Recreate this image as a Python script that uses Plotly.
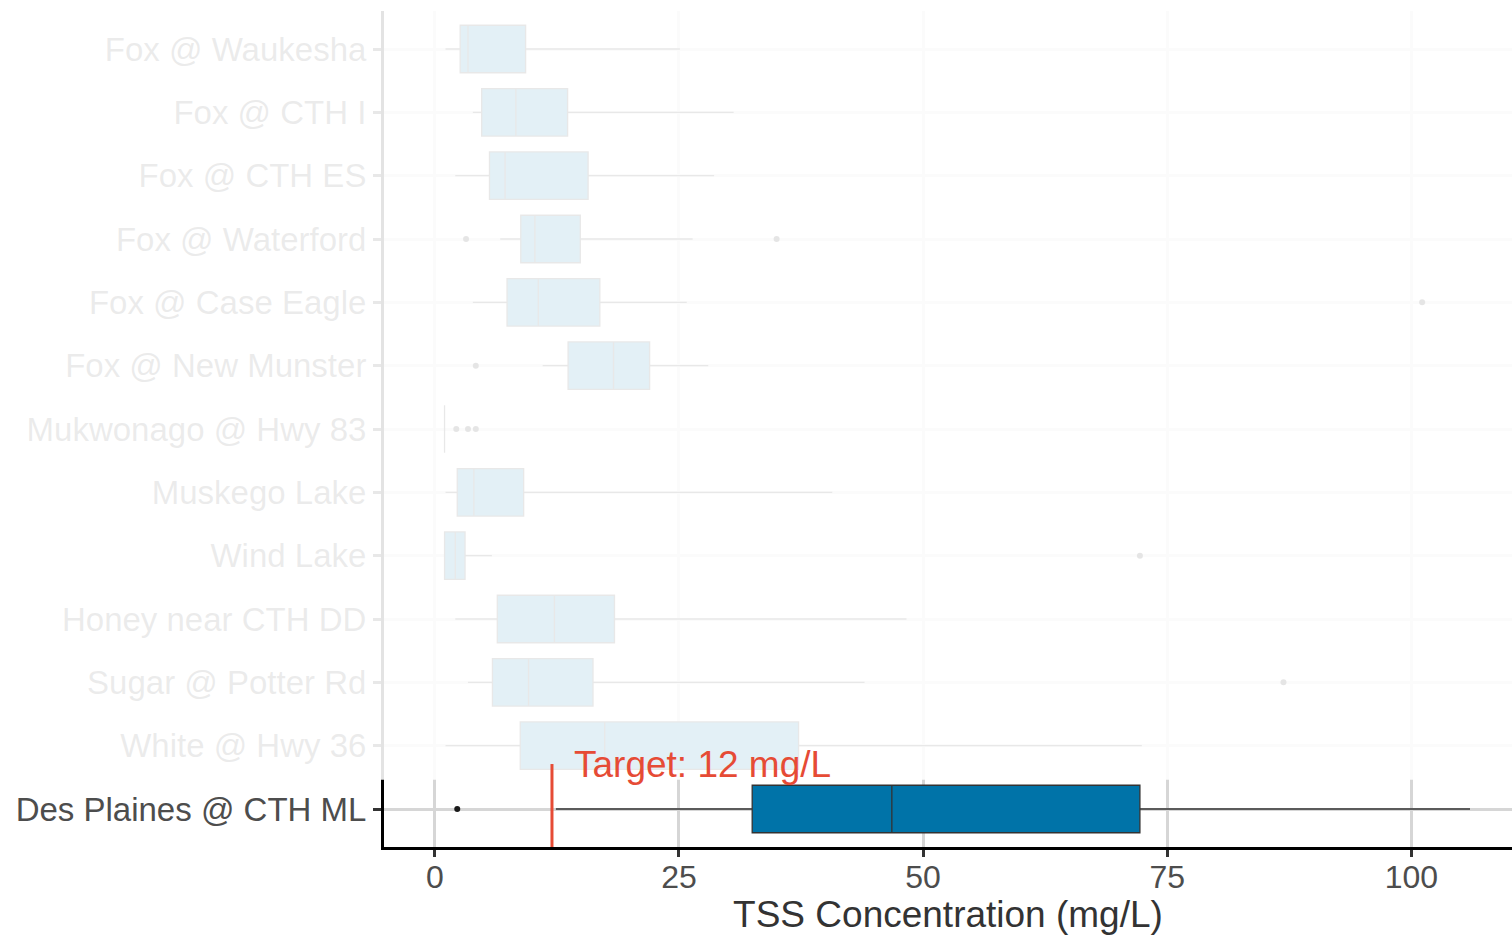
import plotly.graph_objects as go

# Monitoring sites, top to bottom
sites = [
    "Fox @ Waukesha", "Fox @ CTH I", "Fox @ CTH ES", "Fox @ Waterford",
    "Fox @ Case Eagle", "Fox @ New Munster", "Mukwonago @ Hwy 83",
    "Muskego Lake", "Wind Lake", "Honey near CTH DD", "Sugar @ Potter Rd",
    "White @ Hwy 36", "Des Plaines @ CTH ML",
]

# Box statistics of TSS (mg/L) per site
lower_whisker = [1.1, 3.9, 2.1, 6.7, 3.9, 11.05, 1.0, 1.1, 1.0, 2.1, 3.4, 1.1, 12.4]
q1 = [2.6, 4.8, 5.6, 8.8, 7.4, 13.65, 1.0, 2.3, 1.0, 6.4, 5.9, 8.75, 32.5]
median = [3.4, 8.3, 7.2, 10.25, 10.6, 18.3, 1.0, 4.0, 2.1, 12.25, 9.6, 17.4, 46.8]
q3 = [9.3, 13.6, 15.7, 14.9, 16.9, 22.0, 1.0, 9.1, 3.1, 18.4, 16.2, 37.25, 72.2]
upper_whisker = [25.1, 30.6, 28.6, 26.4, 25.8, 28.0, 1.0, 40.7, 5.85, 48.3, 44.0, 72.4, 106.0]

# Outlying samples
outlier_site = [
    "Fox @ Waterford", "Fox @ Waterford", "Fox @ Case Eagle", "Fox @ New Munster",
    "Mukwonago @ Hwy 83", "Mukwonago @ Hwy 83", "Mukwonago @ Hwy 83",
    "Wind Lake", "Sugar @ Potter Rd", "Des Plaines @ CTH ML",
]
outlier_value = [3.2, 35.0, 101.1, 4.2, 2.2, 3.4, 4.2, 72.2, 86.9, 2.3]

HIGHLIGHT = "Des Plaines @ CTH ML"
TARGET = 12
x_ticks = [0, 25, 50, 75, 100]

BOX_FILL = "#0073A8"
TARGET_RED = "#E64B35"
FONT = "Liberation Sans, Arial, sans-serif"

X_RANGE = [-5.2, 110.3]
Y_RANGE = [-0.6, len(sites) - 0.4]
bottom_up = list(reversed(sites))

fig = go.Figure()

fig.add_trace(go.Box(
    y=sites,
    q1=q1, median=median, q3=q3,
    lowerfence=lower_whisker, upperfence=upper_whisker,
    orientation="h",
    width=0.75,
    whiskerwidth=0,
    fillcolor=BOX_FILL,
    line=dict(color="#333333", width=1.3),
    boxpoints=False,
    showlegend=False,
))

fig.add_trace(go.Scatter(
    x=outlier_value, y=outlier_site,
    mode="markers",
    marker=dict(color="#1a1a1a", size=6),
    showlegend=False,
))

# Fade every site except the highlighted one with a translucent white veil
hi_idx = bottom_up.index(HIGHLIGHT)
veil_bottom = (hi_idx + 0.46 - Y_RANGE[0]) / (Y_RANGE[1] - Y_RANGE[0])
shapes = [
    dict(type="rect", xref="paper", yref="paper",
         x0=-0.36, x1=1.01, y0=veil_bottom, y1=1.05,
         fillcolor="white", opacity=0.89, line=dict(width=0), layer="above"),
    dict(type="line", xref="x", yref="y",
         x0=TARGET, x1=TARGET, y0=Y_RANGE[0], y1=hi_idx + 0.71,
         line=dict(color=TARGET_RED, width=3), layer="above"),
]

fig.update_layout(
    width=1512, height=935,
    margin=dict(l=384, r=0, t=11, b=88),
    paper_bgcolor="white", plot_bgcolor="white",
    font=dict(family=FONT, color="#4d4d4d"),
    shapes=shapes,
    annotations=[dict(
        x=TARGET, y=hi_idx + 0.71, xref="x", yref="y",
        text=f"Target: {TARGET} mg/L", showarrow=False,
        xanchor="left", yanchor="middle", xshift=20,
        font=dict(family=FONT, size=37, color=TARGET_RED),
    )],
    xaxis=dict(
        range=X_RANGE, tickvals=x_ticks, ticktext=[str(v) for v in x_ticks],
        showgrid=True, gridcolor="#d6d6d6", gridwidth=2.5, zeroline=False,
        showline=True, linecolor="black", linewidth=3,
        ticks="outside", ticklen=7, tickwidth=2.5, tickcolor="#333333",
        ticklabelstandoff=-7,
        tickfont=dict(family=FONT, size=32, color="#4d4d4d"),
        title=dict(text="TSS Concentration (mg/L)", standoff=6,
                   font=dict(family=FONT, size=37, color="#333333")),
        automargin=False,
    ),
    yaxis=dict(
        type="category", categoryorder="array", categoryarray=bottom_up,
        range=Y_RANGE,
        showgrid=True, gridcolor="#d6d6d6", gridwidth=2.5, zeroline=False,
        showline=True, linecolor="black", linewidth=3,
        ticks="outside", ticklen=8, tickwidth=2.5, tickcolor="#333333",
        ticklabelstandoff=0,
        tickfont=dict(family=FONT, size=33, color="#4d4d4d"),
        automargin=False,
    ),
)

fig.write_html("out.html")
